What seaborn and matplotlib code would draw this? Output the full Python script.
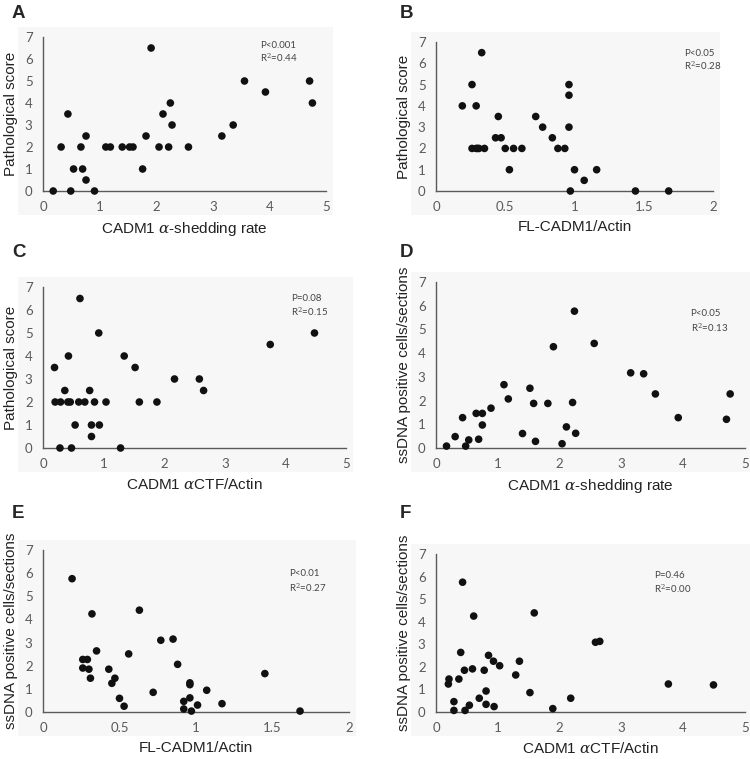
import numpy as np
import pandas as pd
import seaborn as sns
import matplotlib.pyplot as plt
from matplotlib.patches import Rectangle

# Dados
shed_A = [0.18, 0.32, 0.44, 0.49, 0.54, 0.67, 0.70, 0.76, 0.76, 0.91, 1.11, 1.19, 1.40, 1.53, 1.59,
          1.76, 1.82, 1.91, 2.05, 2.12, 2.22, 2.25, 2.28, 2.57, 3.16, 3.36, 3.56, 3.93, 4.71, 4.76]
score_A = [0, 2, 3.5, 0, 1, 2, 1, 2.5, 0.5, 0, 2, 2, 2, 2, 2,
           1, 2.5, 6.5, 2, 3.5, 2, 4, 3, 2, 2.5, 3, 5, 4.5, 5, 4]

fl_B = [0.19, 0.26, 0.26, 0.29, 0.29, 0.33, 0.31, 0.35, 0.43, 0.45, 0.47, 0.50, 0.53, 0.56, 0.62,
        0.72, 0.77, 0.84, 0.88, 0.93, 0.96, 0.96, 0.96, 0.97, 1.00, 1.07, 1.16, 1.44, 1.68, 0.30]
score_B = [4, 5, 2, 4, 2, 6.5, 2, 2, 2.5, 3.5, 2.5, 2, 1, 2, 2,
           3.5, 3, 2.5, 2, 2, 5, 4.5, 3, 0, 1, 0.5, 1, 0, 0, 2]

ctf_C = [0.19, 0.20, 0.29, 0.28, 0.36, 0.41, 0.42, 0.45, 0.47, 0.53, 0.59, 0.61, 0.69, 0.77, 0.80,
         0.80, 0.85, 0.92, 0.93, 1.04, 1.28, 1.34, 1.52, 1.59, 1.88, 2.17, 2.58, 2.65, 3.75, 4.48]
score_C = [3.5, 2, 2, 0, 2.5, 2, 4, 2, 0, 1, 2, 6.5, 2, 2.5, 1,
           0.5, 2, 5, 1, 2, 0, 4, 3.5, 2, 2, 3, 3, 2.5, 4.5, 5]

shed_D = [0.17, 0.31, 0.43, 0.48, 0.53, 0.69, 0.65, 0.75, 0.75, 0.89, 1.10, 1.17, 1.40, 1.52, 1.58,
          1.61, 1.81, 1.90, 2.04, 2.11, 2.21, 2.24, 2.26, 2.56, 3.15, 3.36, 3.55, 3.92, 4.70, 4.76]
ssdna_D = [0.08, 0.48, 1.28, 0.08, 0.34, 0.37, 1.46, 1.46, 0.97, 1.68, 2.67, 2.07, 0.61, 2.52, 1.88,
           0.28, 1.88, 4.27, 0.18, 0.89, 1.92, 5.77, 0.62, 4.41, 3.17, 3.13, 2.28, 1.28, 1.21, 2.28]

fl_E = [0.19, 0.26, 0.29, 0.26, 0.30, 0.31, 0.32, 0.35, 0.43, 0.45, 0.47, 0.50, 0.53, 0.56, 0.63,
        0.72, 0.77, 0.85, 0.88, 0.92, 0.92, 0.96, 0.96, 0.96, 0.97, 1.01, 1.07, 1.17, 1.45, 1.68]
ssdna_E = [5.76, 2.27, 2.27, 1.90, 1.85, 1.46, 4.24, 2.64, 1.85, 1.24, 1.46, 0.59, 0.25, 2.51, 4.40,
           0.85, 3.10, 3.15, 2.06, 0.46, 0.13, 1.26, 1.18, 0.61, 0.04, 0.30, 0.94, 0.36, 1.66, 0.04]

ctf_F = [0.20, 0.21, 0.29, 0.29, 0.37, 0.40, 0.43, 0.46, 0.47, 0.54, 0.59, 0.61, 0.70, 0.78, 0.81,
         0.81, 0.85, 0.93, 0.94, 1.03, 1.29, 1.35, 1.52, 1.59, 1.89, 2.18, 2.58, 2.65, 3.76, 4.49]
ssdna_F = [1.24, 1.46, 0.46, 0.07, 1.46, 2.64, 5.75, 1.85, 0.07, 0.30, 1.91, 4.25, 0.61, 1.85, 0.93,
           0.34, 2.51, 2.25, 0.24, 2.05, 1.64, 2.25, 0.86, 4.39, 0.15, 0.61, 3.09, 3.13, 1.24, 1.20]

lbl_shed = r"CADM1 $\alpha$-shedding rate"
lbl_fl = "FL-CADM1/Actin"
lbl_ctf = r"CADM1 $\alpha$CTF/Actin"
lbl_score = "Pathological score"
lbl_ss = "ssDNA positive cells/sections"

W, H = 750, 759
# letra, x, y, rotulos, estatistica, (esq, dir, topo, base) em px, posicao do texto, xmax, xticks
paineis = [
    ("A", shed_A, score_A, lbl_shed, lbl_score, "P<0.001", "R$^2$=0.44", (43, 326, 37, 191), (0.767, 0.948), 5, [0, 1, 2, 3, 4, 5]),
    ("B", fl_B, score_B, lbl_fl, lbl_score, "P<0.05", "R$^2$=0.28", (436, 713, 42, 191), (0.896, 0.924), 2, [0, 0.5, 1, 1.5, 2]),
    ("C", ctf_C, score_C, lbl_ctf, lbl_score, "P=0.08", "R$^2$=0.15", (43, 346, 287, 448), (0.818, 0.931), 5, [0, 1, 2, 3, 4, 5]),
    ("D", shed_D, ssdna_D, lbl_shed, lbl_ss, "P<0.05", "R$^2$=0.13", (436, 745, 282, 448), (0.824, 0.812), 5, [0, 1, 2, 3, 4, 5]),
    ("E", fl_E, ssdna_E, lbl_fl, lbl_ss, "P<0.01", "R$^2$=0.27", (43, 349, 550, 712), (0.803, 0.852), 2, [0, 0.5, 1, 1.5, 2]),
    ("F", ctf_F, ssdna_F, lbl_ctf, lbl_ss, "P=0.46", "R$^2$=0.00", (436, 745, 554, 712), (0.706, 0.863), 5, [0, 1, 2, 3, 4, 5]),
]

sns.set_style("white")
plt.rcParams['font.family'] = ['Liberation Sans', 'DejaVu Sans']
plt.rcParams['mathtext.fontset'] = 'dejavuserif'

fig = plt.figure(figsize=(7.5, 7.59), dpi=100)
cinza = "#5a5a5a"

for letra, xs, ys, xl, yl, ptxt, rtxt, (l, r, t, b), (tx, ty), xmax, xt in paineis:
    # fundo cinza claro tipo Excel
    fig.patches.append(Rectangle(((l - 25) / W, 1 - (b + 24) / H), (r - l + 32) / W, (b - t + 34) / H,
                                 transform=fig.transFigure, facecolor="#f7f7f7", edgecolor="none", zorder=-5))
    ax = fig.add_axes([l / W, 1 - b / H, (r - l) / W, (b - t) / H])
    ax.patch.set_alpha(0)
    df = pd.DataFrame({"x": xs, "y": ys})
    sns.scatterplot(data=df, x="x", y="y", ax=ax, color="#111111", s=30, edgecolor="none", clip_on=False, zorder=3)
    ax.set_xlim(0, xmax)
    ax.set_ylim(0, 7)
    ax.set_xticks(xt)
    ax.set_xticklabels([f"{v:g}" for v in xt])
    ax.set_yticks(range(8))
    for s in ["top", "right"]:
        ax.spines[s].set_visible(False)
    for s in ["left", "bottom"]:
        ax.spines[s].set_color(cinza)
        ax.spines[s].set_linewidth(1.0)
    ax.tick_params(axis="both", direction="out", length=3.5, width=1.0, color=cinza,
                   labelcolor=cinza, labelsize=9.5, pad=4)
    for lb in ax.get_xticklabels() + ax.get_yticklabels():
        lb.set_family("Lato")
    ax.set_xlabel(xl, fontsize=11, color="#222222", labelpad=5)
    ax.set_ylabel(yl, fontsize=11, color="#222222", labelpad=5)
    ax.text(tx, ty, ptxt, transform=ax.transAxes, fontsize=7, color="#444444", family="Lato", va="center")
    ax.text(tx, ty - 0.085, rtxt, transform=ax.transAxes, fontsize=7, color="#444444", family="Lato", va="center")

# letras dos paineis
for letra, px, py in [("A", 12, 14), ("B", 400, 14), ("C", 12, 253), ("D", 400, 253), ("E", 12, 513), ("F", 400, 513)]:
    fig.text(px / W, 1 - py / H, letra, fontsize=13.5, fontweight="bold", va="center", ha="left")

plt.savefig("out.png", dpi=100)
